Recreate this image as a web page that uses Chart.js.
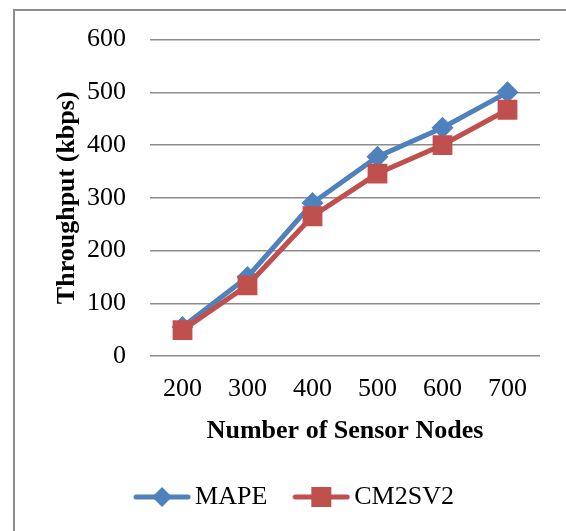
<!DOCTYPE html>
<html>
<head>
<meta charset="utf-8">
<script src="https://cdn.jsdelivr.net/npm/chart.js@4"></script>
<style>
  html, body { margin: 0; padding: 0; background: #fff; overflow: hidden; }
  #wrap { position: relative; width: 566px; height: 531px; }
  #frame { position: absolute; left: 13px; top: 9px; width: 620px; height: 620px; border: 2px solid #8c8c8c; box-sizing: border-box; }
  canvas { position: absolute; left: 0; top: 0; }
</style>
</head>
<body>
<div id="wrap">
  <div id="frame"></div>
  <canvas id="c" width="566" height="531"></canvas>
</div>
<script>
const categories = ["200", "300", "400", "500", "600", "700"];
const mapeValues = [55, 150, 290, 378, 433, 500];
const cm2sv2Values = [49, 134, 265, 346, 400, 467];
const yTicks = [0, 100, 200, 300, 400, 500, 600];

const BLUE = '#4F81BD';
const RED = '#C0504D';
const FONT = '"Liberation Serif", "Times New Roman", serif';

function legendIcon(color, shape) {
  const cv = document.createElement('canvas');
  cv.width = 58; cv.height = 24;
  const g = cv.getContext('2d');
  g.strokeStyle = color; g.lineWidth = 5; g.lineCap = 'round';
  g.beginPath(); g.moveTo(3, 12); g.lineTo(55, 12); g.stroke();
  g.fillStyle = color;
  if (shape === 'diamond') {
    g.beginPath(); g.moveTo(29, 2); g.lineTo(39, 12); g.lineTo(29, 22); g.lineTo(19, 12); g.closePath(); g.fill();
  } else {
    g.fillRect(19, 2, 20, 20);
  }
  return cv;
}
const icons = [legendIcon(BLUE, 'diamond'), legendIcon(RED, 'square')];

const legendShift = {
  id: 'legendShift',
  afterLayout(chart) {
    if (chart.legend) { chart.legend.left += 13; chart.legend.right += 13; }
  }
};

const chart = new Chart(document.getElementById('c'), {
  type: 'line',
  plugins: [legendShift],
  data: {
    labels: categories,
    datasets: [
      { label: 'MAPE', data: mapeValues, borderColor: BLUE, backgroundColor: BLUE,
        borderWidth: 5, pointStyle: 'rectRot', pointRadius: 11, pointHoverRadius: 11,
        pointBorderWidth: 0, order: 2, tension: 0 },
      { label: 'CM2SV2', data: cm2sv2Values, borderColor: RED, backgroundColor: RED,
        borderWidth: 5, pointStyle: 'rect', pointRadius: 14, pointHoverRadius: 14,
        pointBorderWidth: 0, order: 1, tension: 0 }
    ]
  },
  options: {
    responsive: false,
    animation: false,
    events: [],
    layout: { padding: { left: 30, top: 39, right: 26, bottom: 11 } },
    plugins: {
      tooltip: { enabled: false },
      legend: {
        position: 'bottom',
        labels: {
          usePointStyle: true,
          pointStyleWidth: 40,
          padding: 34,
          color: '#000',
          font: { family: FONT, size: 26 },
          sort: (a, b) => a.datasetIndex - b.datasetIndex,
          generateLabels: (ch) => ch.data.datasets.map((ds, i) => ({
            text: ds.label, pointStyle: icons[i], fillStyle: ds.borderColor,
            strokeStyle: ds.borderColor, lineWidth: 0, hidden: false, datasetIndex: i, fontColor: '#000'
          }))
        }
      }
    },
    scales: {
      x: {
        offset: true,
        grid: { display: false, drawTicks: false },
        border: { display: false },
        ticks: { color: '#000', font: { family: FONT, size: 26 }, padding: 18, maxRotation: 0 },
        title: { display: true, text: 'Number of Sensor Nodes', color: '#000',
          font: { family: FONT, size: 26, weight: 'bold' }, padding: { top: 0, bottom: 3 } },
        afterFit: (s) => { s.height = 94; }
      },
      y: {
        min: 0, max: 600,
        afterBuildTicks: (s) => { s.ticks = yTicks.map(v => ({ value: v })); },
        grid: { color: '#8c8c8c', lineWidth: 1.5, drawTicks: false },
        border: { display: false },
        ticks: { color: '#000', font: { family: FONT, size: 26 }, padding: 24 },
        title: { display: true, text: 'Throughput (kbps)', color: '#000',
          font: { family: FONT, size: 26, weight: 'bold' }, padding: { top: 22, bottom: 0 } },
        afterFit: (s) => { s.width = 120; }
      }
    }
  }
});
</script>
</body>
</html>
